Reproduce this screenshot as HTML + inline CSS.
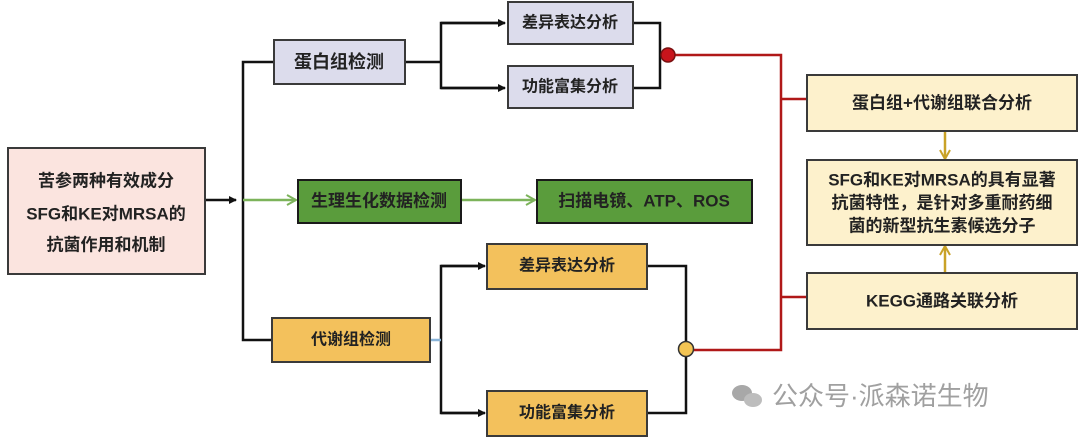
<!DOCTYPE html>
<html><head><meta charset="utf-8"><style>
body{margin:0;background:#fff;}
svg text{font-family:"Liberation Sans","Noto Sans CJK SC",sans-serif;font-weight:bold;fill:#222;text-anchor:middle;dominant-baseline:central;}
</style></head><body>
<svg width="1080" height="438" viewBox="0 0 1080 438" xmlns="http://www.w3.org/2000/svg">
<defs>
<marker id="ab" markerWidth="8" markerHeight="8" refX="7" refY="4" orient="auto" markerUnits="userSpaceOnUse"><path d="M0,0 L8,4 L0,8 z" fill="#111"/></marker>
<marker id="ag" markerWidth="12" markerHeight="12" refX="10" refY="6" orient="auto" markerUnits="userSpaceOnUse"><path d="M1,1 L10,6 L1,11" fill="none" stroke="#7cb35a" stroke-width="2"/></marker>
<marker id="ay" markerWidth="12" markerHeight="12" refX="10" refY="6" orient="auto" markerUnits="userSpaceOnUse"><path d="M1,1 L10,6 L1,11" fill="none" stroke="#c9a227" stroke-width="2"/></marker>
</defs>
<g stroke="#111" stroke-width="2.5" fill="none">
<line x1="205" y1="200" x2="236" y2="200" marker-end="url(#ab)"/>
<polyline points="274,62 243,62 243,340 272,340"/>
<polyline points="405,62 441,62"/>
<polyline points="500,23 441,23 441,88 500,88" />
<polyline points="633,23 660,23 660,88 633,88"/>
<polyline points="480,266 441,266 441,413 480,413"/>
<polyline points="647,266 686,266 686,413 647,413"/>
</g>
<line x1="441" y1="23" x2="505" y2="23" stroke="#111" stroke-width="2.5" marker-end="url(#ab)"/>
<line x1="441" y1="88" x2="505" y2="88" stroke="#111" stroke-width="2.5" marker-end="url(#ab)"/>
<line x1="441" y1="266" x2="485" y2="266" stroke="#111" stroke-width="2.5" marker-end="url(#ab)"/>
<line x1="441" y1="413" x2="485" y2="413" stroke="#111" stroke-width="2.5" marker-end="url(#ab)"/>
<line x1="430" y1="340" x2="441" y2="340" stroke="#8ab4d8" stroke-width="2.5"/>
<line x1="243" y1="200" x2="296" y2="200" stroke="#7cb35a" stroke-width="2.5" marker-end="url(#ag)"/>
<line x1="461" y1="200" x2="535" y2="200" stroke="#7cb35a" stroke-width="2.5" marker-end="url(#ag)"/>
<g stroke="#b01818" stroke-width="2.5" fill="none">
<polyline points="675,55 781,55 781,350 693,350"/>
<line x1="781" y1="99" x2="808" y2="99"/>
<line x1="781" y1="297" x2="808" y2="297"/>
</g>
<circle cx="668" cy="55" r="7" fill="#c8141c" stroke="#7a1010" stroke-width="1.5"/>
<circle cx="686" cy="349" r="7.5" fill="#f3c453" stroke="#333" stroke-width="1.5"/>
<line x1="945" y1="131" x2="945" y2="159" stroke="#c9a227" stroke-width="2.5" marker-end="url(#ay)"/>
<line x1="945" y1="273" x2="945" y2="246" stroke="#c9a227" stroke-width="2.5" marker-end="url(#ay)"/>
<g stroke="#3a3a3a" stroke-width="2">
<rect x="8" y="148" width="197" height="126" fill="#fbe4df"/>
<rect x="274" y="40" width="131" height="44" fill="#dcdcec"/>
<rect x="508" y="2" width="125" height="42" fill="#dcdcec"/>
<rect x="508" y="66" width="125" height="42" fill="#dcdcec"/>
<rect x="298" y="180" width="163" height="43" fill="#5a9c3c" stroke="#1a1a1a"/>
<rect x="537" y="180" width="215" height="43" fill="#5a9c3c" stroke="#1a1a1a"/>
<rect x="272" y="318" width="158" height="44" fill="#f3c15c"/>
<rect x="487" y="244" width="160" height="45" fill="#f3c15c"/>
<rect x="487" y="391" width="160" height="45" fill="#f3c15c"/>
<rect x="807" y="75" width="270" height="56" fill="#fdf1cc"/>
<rect x="807" y="160" width="270" height="85" fill="#fdf1cc"/>
<rect x="807" y="273" width="270" height="56" fill="#fdf1cc"/>
</g>
<g font-size="17">
<text x="106" y="181">苦参两种有效成分</text>
<text x="106" y="214">SFG和KE对MRSA的</text>
<text x="106" y="245">抗菌作用和机制</text>
<text x="339" y="62" font-size="18">蛋白组检测</text>
<text x="570" y="23" font-size="16">差异表达分析</text>
<text x="570" y="87" font-size="16">功能富集分析</text>
<text x="379" y="201">生理生化数据检测</text>
<text x="644" y="201">扫描电镜、ATP、ROS</text>
<text x="351" y="340" font-size="16">代谢组检测</text>
<text x="567" y="266" font-size="16">差异表达分析</text>
<text x="567" y="413" font-size="16">功能富集分析</text>
<text x="942" y="103">蛋白组+代谢组联合分析</text>
<text x="942" y="180">SFG和KE对MRSA的具有显著</text>
<text x="942" y="203">抗菌特性，是针对多重耐药细</text>
<text x="942" y="226">菌的新型抗生素候选分子</text>
<text x="942" y="301">KEGG通路关联分析</text>
</g>
<g fill="#a8a8a8">
<ellipse cx="742" cy="393" rx="10" ry="8"/>
<ellipse cx="753" cy="400" rx="9" ry="7" fill="#bdbdbd"/>
</g>
<text x="772" y="396" font-size="26" style="font-weight:normal;fill:#a0a0a0;text-anchor:start">公众号·派森诺生物</text>
</svg>
</body></html>
